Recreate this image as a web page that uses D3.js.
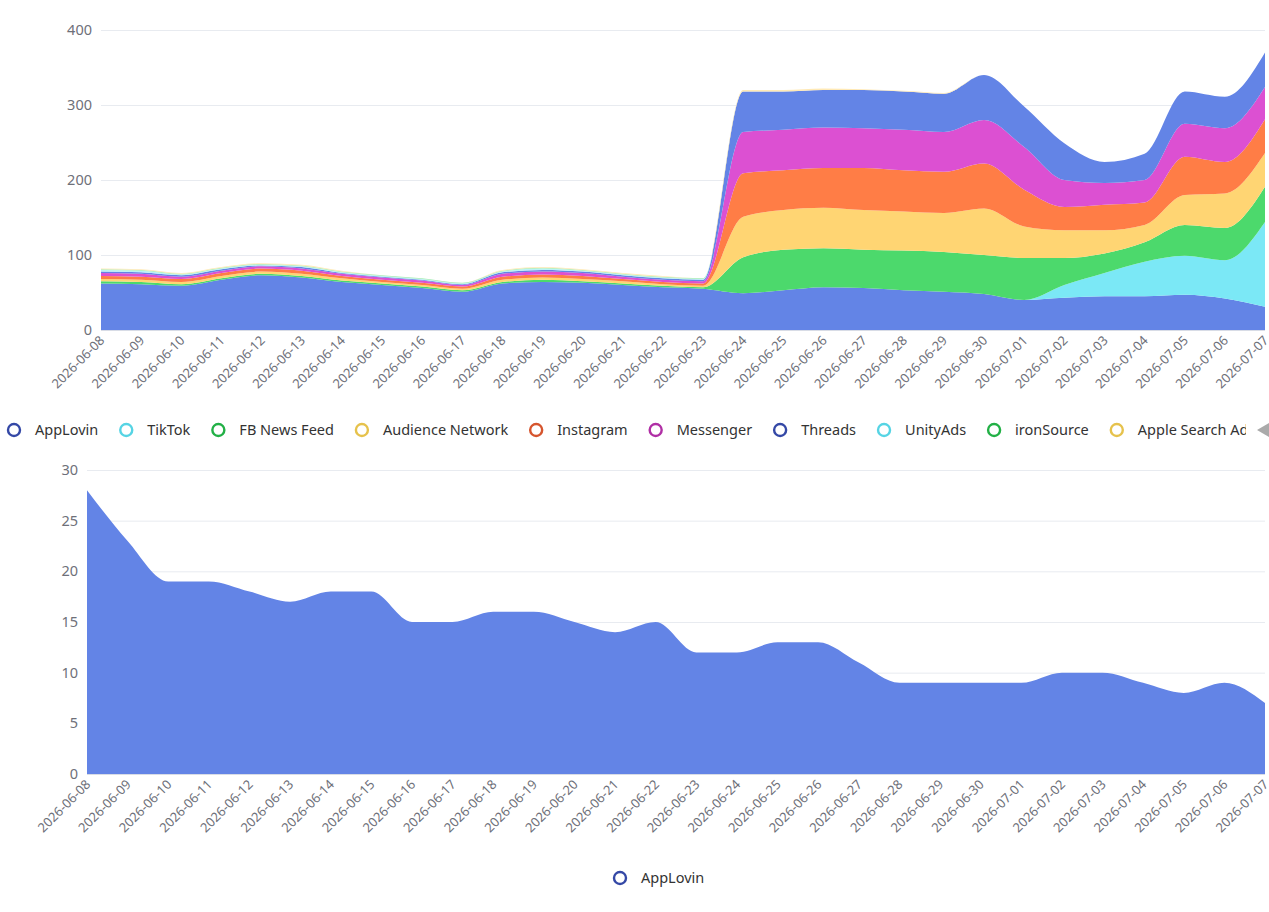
<!DOCTYPE html>
<html>
<head>
<meta charset="utf-8">
<script src="https://cdn.jsdelivr.net/npm/d3@7"></script>
<style>
  body { margin: 0; background: #fff; }
  svg { display: block; font-family: "Noto Sans", "Open Sans", sans-serif; }
</style>
</head>
<body>
<svg id="chart" width="1269" height="912"></svg>
<script>
// dates on the x axis
const dates = ["2026-06-08","2026-06-09","2026-06-10","2026-06-11","2026-06-12","2026-06-13","2026-06-14",
  "2026-06-15","2026-06-16","2026-06-17","2026-06-18","2026-06-19","2026-06-20","2026-06-21","2026-06-22",
  "2026-06-23","2026-06-24","2026-06-25","2026-06-26","2026-06-27","2026-06-28","2026-06-29","2026-06-30",
  "2026-07-01","2026-07-02","2026-07-03","2026-07-04","2026-07-05","2026-07-06","2026-07-07"];

// top chart, stacked series (bottom to top)
const appLovin         = [62,61,59,67,73,70,64,60,56,51,62,64,63,60,57,55, 49,53,57,56,53,51,48,40,43,45,45,47,42,31];
const tikTok           = [0,0,0,0,0,0,0,0,0,0,0,0,0,0,0,0, 0,0,0,0,0,0,0,0,17,31,46,52,51,113];
const fbNewsFeed       = [3,3,2,2,2,2,2,2,2,2,2,3,2,2,2,2, 48,54,52,51,53,53,52,56,36,26,26,41,43,47];
const audienceNetwork  = [3,3,3,3,3,3,3,2,2,2,3,3,3,3,2,2, 54,53,54,53,52,52,62,42,37,31,23,40,46,45];
const instagram        = [4,4,4,4,4,4,3,3,3,3,4,4,4,3,3,3, 58,53,53,56,55,55,60,49,31,34,30,51,42,45];
const messenger        = [4,4,3,3,3,3,3,3,3,2,4,4,4,3,3,3, 55,54,54,53,54,53,58,57,36,29,30,44,45,43];
const threads          = [2,2,2,2,1,2,1,1,1,1,2,2,2,2,2,2, 54,51,50,51,51,51,60,54,49,28,35,43,42,46];
const unityAds         = [2,2,1,1,1,1,1,1,1,1,1,2,1,1,1,1, 0,0,0,0,0,0,0,0,0,0,0,0,0,0];
const ironSource       = [1,1,1,1,1,1,1,1,1,1,1,1,1,1,1,1, 0,0,0,0,0,0,0,0,0,0,0,0,0,0];
const appleSearchAds   = [1,1,1,1,1,1,1,0,0,0,1,1,1,1,1,0, 2,2,2,1,1,1,0,0,0,0,0,0,0,0];

// bottom chart
const appLovinOnly = [28,23,19,19,18,17,18,18,15,15,16,16,15,14,15,12,12,13,13,11,9,9,9,9,10,10,9,8,9,7];

const topTicks = [0,100,200,300,400];
const bottomTicks = [0,5,10,15,20,25,30];

const seriesNames = ["AppLovin","TikTok","FB News Feed","Audience Network","Instagram","Messenger",
  "Threads","UnityAds","ironSource","Apple Search Ads"];
const seriesValues = [appLovin, tikTok, fbNewsFeed, audienceNetwork, instagram, messenger,
  threads, unityAds, ironSource, appleSearchAds];
const fillColors = ["#6384e6","#7be8f6","#4cd96c","#ffd573","#ff7d46","#dc50d2",
  "#6384e6","#b8f2f8","#a6ecb5","#ffe9b5"];
const iconColors = ["#3448a6","#56d4e4","#22b046","#e6c24c","#d6552e","#b02fa5",
  "#3448a6","#56d4e4","#22b046","#e6c24c"];

const svg = d3.select("#chart");
const axisColor = "#6e7079";
const gridColor = "#e8ebf0";

function drawYAxis(g, y, ticks, x0, x1) {
  g.selectAll("line.grid").data(ticks).join("line")
    .attr("class", "grid")
    .attr("x1", x0).attr("x2", x1)
    .attr("y1", d => y(d) + 0.5).attr("y2", d => y(d) + 0.5)
    .attr("stroke", gridColor);
  g.selectAll("text.ylab").data(ticks).join("text")
    .attr("class", "ylab")
    .attr("x", x0 - 9).attr("y", d => y(d))
    .attr("dy", "0.35em")
    .attr("text-anchor", "end")
    .attr("fill", axisColor)
    .style("font-size", "14.5px")
    .text(d => d);
}

function drawXLabels(g, x, yBase) {
  g.selectAll("text.xlab").data(dates).join("text")
    .attr("class", "xlab")
    .attr("transform", d => "translate(" + (x(d) + 1) + "," + (yBase + 8) + ") rotate(-45)")
    .attr("text-anchor", "end")
    .attr("dy", "0.35em")
    .attr("fill", axisColor)
    .style("font-size", "13px")
    .text(d => d);
}

// ---------- top stacked chart ----------
const xTop = d3.scalePoint().domain(dates).range([101, 1265]);
const yTop = d3.scaleLinear().domain([0, 400]).range([330, 30]);

const rows = dates.map((d, i) => {
  const r = { date: d };
  seriesNames.forEach((n, k) => r[n] = seriesValues[k][i]);
  return r;
});
const stacked = d3.stack().keys(seriesNames)(rows);

const gTop = svg.append("g");
drawYAxis(gTop, yTop, topTicks, 101, 1265);

const areaTop = d3.area()
  .x(d => xTop(d.data.date))
  .y0(d => yTop(d[0]))
  .y1(d => yTop(d[1]))
  .curve(d3.curveMonotoneX);

gTop.selectAll("path.layer").data(stacked).join("path")
  .attr("class", "layer")
  .attr("d", areaTop)
  .attr("fill", (d, i) => fillColors[i]);

gTop.append("line")
  .attr("x1", 101).attr("x2", 1265)
  .attr("y1", 330.5).attr("y2", 330.5)
  .attr("stroke", "#d8dce6");
drawXLabels(gTop, xTop, 330);

// legend for the top chart (scrolling legend, clipped)
svg.append("clipPath").attr("id", "legendClip")
  .append("rect").attr("x", 0).attr("y", 410).attr("width", 1246).attr("height", 40);
const legend = svg.append("g").attr("clip-path", "url(#legendClip)");
let cx = 14;
seriesNames.forEach((n, i) => {
  legend.append("circle")
    .attr("cx", cx).attr("cy", 430).attr("r", 6)
    .attr("fill", "#fff")
    .attr("stroke", iconColors[i])
    .attr("stroke-width", 2.4);
  const t = legend.append("text")
    .attr("x", cx + 21).attr("y", 430)
    .attr("dy", "0.35em")
    .attr("fill", "#333")
    .style("font-size", "14.5px")
    .text(n);
  cx += 21 + t.node().getComputedTextLength() + 28;
});
svg.append("path")
  .attr("d", "M1257,430 L1269,423 L1269,437 Z")
  .attr("fill", "#aaa");

// ---------- bottom chart ----------
const xBot = d3.scalePoint().domain(dates).range([87, 1265]);
const yBot = d3.scaleLinear().domain([0, 30]).range([774, 470]);

const gBot = svg.append("g");
drawYAxis(gBot, yBot, bottomTicks, 87, 1265);

const areaBot = d3.area()
  .x((d, i) => xBot(dates[i]))
  .y0(yBot(0))
  .y1(d => yBot(d))
  .curve(d3.curveMonotoneX);

gBot.append("path")
  .datum(appLovinOnly)
  .attr("d", areaBot)
  .attr("fill", fillColors[0]);

gBot.append("line")
  .attr("x1", 87).attr("x2", 1265)
  .attr("y1", 774.5).attr("y2", 774.5)
  .attr("stroke", "#d8dce6");
drawXLabels(gBot, xBot, 774);

// bottom legend
const lg2 = svg.append("g");
lg2.append("circle")
  .attr("cx", 620).attr("cy", 878).attr("r", 6)
  .attr("fill", "#fff").attr("stroke", iconColors[0]).attr("stroke-width", 2.4);
lg2.append("text")
  .attr("x", 641).attr("y", 878).attr("dy", "0.35em")
  .attr("fill", "#333").style("font-size", "14.5px")
  .text("AppLovin");
</script>
</body>
</html>
